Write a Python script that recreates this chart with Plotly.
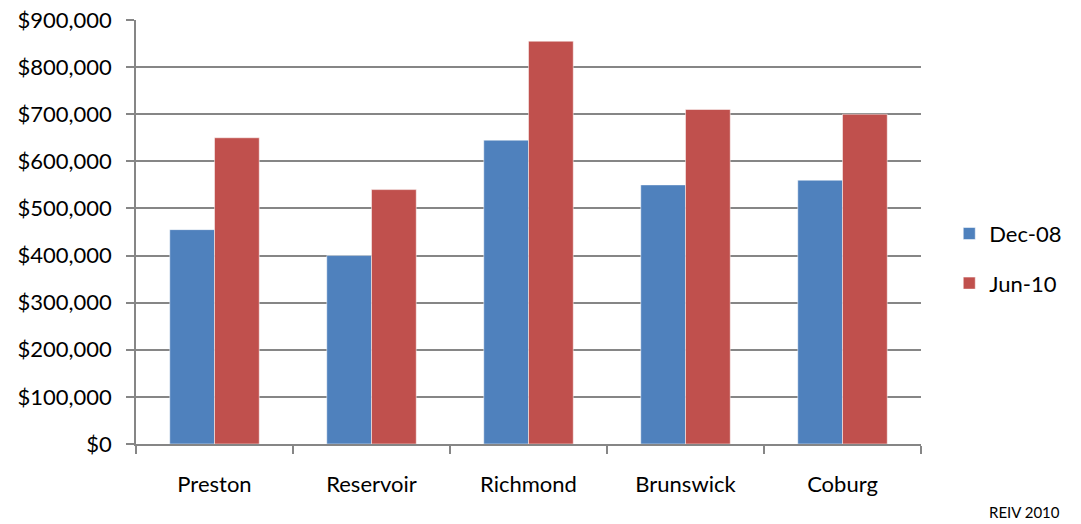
import plotly.graph_objects as go

suburbs = ["Preston", "Reservoir", "Richmond", "Brunswick", "Coburg"]
dec08 = [455000, 400000, 645000, 550000, 560000]
jun10 = [650000, 540000, 855000, 710000, 700000]
y_ticks = [0, 100000, 200000, 300000, 400000, 500000, 600000, 700000, 800000, 900000]
y_labels = ["$" + format(v, ",") for v in y_ticks]

FONT = "Lato"
GREY = "#868686"

fig = go.Figure()
fig.add_trace(go.Bar(name="Dec-08", x=suburbs, y=dec08,
                     marker=dict(color="#4F81BD", line=dict(color="rgba(255,255,255,0.5)", width=1)),
                     legendgroup="a"))
fig.add_trace(go.Bar(name="Jun-10", x=suburbs, y=jun10,
                     marker=dict(color="#C0504D", line=dict(color="rgba(255,255,255,0.5)", width=1)),
                     legendgroup="b"))

L, R, T, B = 136, 160, 20, 80
W, H = 1081, 524
fig.update_layout(
    width=W, height=H,
    margin=dict(l=L, r=R, t=T, b=B, autoexpand=False),
    paper_bgcolor="white", plot_bgcolor="white",
    barmode="group", bargap=0.43, bargroupgap=0,
    font=dict(family=FONT, size=22, color="black"),
    legend=dict(x=1.036, y=0.437, xanchor="left", yanchor="middle", tracegroupgap=18,
                font=dict(size=22), itemwidth=30),
    xaxis=dict(showgrid=False, showline=True, linecolor=GREY, linewidth=1.5, automargin=False,
               ticks="outside", tickson="boundaries", ticklen=8, tickcolor=GREY, tickwidth=1.5,
               tickfont=dict(size=22), ticklabelstandoff=20),
    yaxis=dict(range=[0, 900000], tickvals=y_ticks, ticktext=y_labels, automargin=False,
               showgrid=True, gridcolor=GREY, gridwidth=1.5, showline=True, linecolor=GREY, linewidth=1.5,
               ticks="outside", ticklen=8, tickcolor=GREY, tickwidth=1.5, zeroline=False,
               tickfont=dict(size=22), ticklabelstandoff=10),
    annotations=[dict(text="REIV 2010", xref="paper", yref="paper",
                      x=(1062 - L) / (W - L - R), y=-(512 - (H - B)) / (H - T - B),
                      xanchor="right", yanchor="middle", showarrow=False, font=dict(size=15))],
)
fig.write_html("out.html", config={"displayModeBar": False},
               post_script="document.body.style.margin='0px'; document.body.style.overflow='hidden';")
